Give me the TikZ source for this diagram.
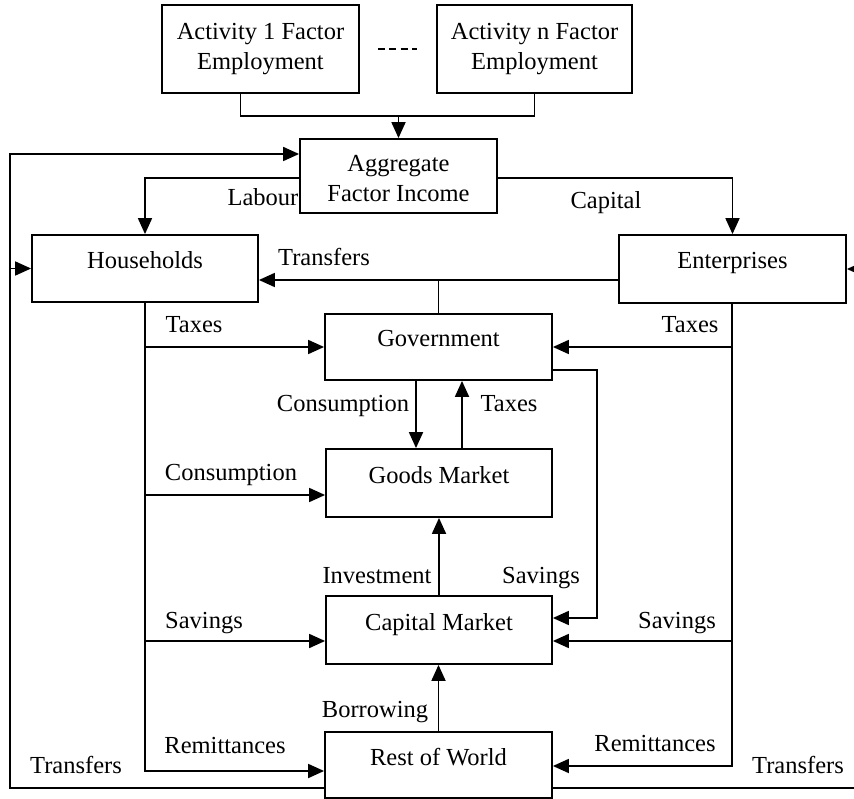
\documentclass[tikz,border=0pt]{standalone}
\usepackage{fontspec}
\setmainfont{Liberation Serif}
\usetikzlibrary{arrows.meta}
\begin{document}
\begin{tikzpicture}[x=1pt,y=-1pt,
  line width=1.8pt,
  every node/.style={font=\fontsize{24.5}{30}\selectfont},
  box/.style={draw, rectangle, inner sep=0pt, align=center},
  one/.style={text height=17pt, text depth=17pt},
  lab/.style={inner sep=0pt, text height=17pt, text depth=5pt},
  arr/.style={-{Triangle[length=16pt,width=14pt]}},
  dashline/.style={line width=1.4pt, dash pattern=on 7pt off 4.3pt}
]
\clip (0,0) rectangle (854,799);
\useasboundingbox (0,0) rectangle (854,799);
\fill[white] (0,0) rectangle (854,799);

% boxes
\node[box, minimum width=197pt, minimum height=88pt] (act1) at (260.5,49) {Activity 1 Factor\\Employment};
\node[box, minimum width=195pt, minimum height=88pt] (actn) at (534.5,49) {Activity n Factor\\Employment};
\node[box, minimum width=197pt, minimum height=74pt] (agg) at (398.5,176) {\raisebox{-5pt}[\height][\depth]{\begin{tabular}{@{}c@{}}Aggregate\\Factor Income\end{tabular}}};
\node[box, one, minimum width=226pt, minimum height=67pt] (hh) at (145,268.5) {Households};
\node[box, one, minimum width=227pt, minimum height=68pt] (ent) at (732.5,269) {Enterprises};
\node[box, one, minimum width=227pt, minimum height=66pt] (gov) at (438.5,347) {Government};
\node[box, one, minimum width=226pt, minimum height=68pt] (goods) at (439,483) {Goods Market};
\node[box, one, minimum width=226pt, minimum height=68pt] (cap) at (439,630) {Capital Market};
\node[box, one, minimum width=227pt, minimum height=66pt] (row) at (438.5,765) {Rest of World};

% helper coordinates
\coordinate (L) at (10,0);
\coordinate (HX) at (145,0);
\coordinate (EX) at (732,0);
\coordinate (GX) at (597,0);
\coordinate (RX) at (872,0);
\coordinate (X1) at (416,0);
\coordinate (X2) at (462,0);
\coordinate (j) at (398.5,116);
\coordinate (yA) at (0,154);
\coordinate (yL) at (0,178);
\coordinate (yT) at (0,280);
\coordinate (yTax) at (0,347);
\coordinate (yGo) at (0,370);
\coordinate (yCons) at (0,495);
\coordinate (yGs) at (0,618);
\coordinate (ySav) at (0,641);
\coordinate (yRl) at (0,771);
\coordinate (yRr) at (0,766);
\coordinate (yB) at (0,788);

% top
\draw ([xshift=-20pt]act1.south) |- (j);
\draw (actn.south) |- (j);
\draw[arr] (j) -- (agg.north);
\draw[dashline, shorten <=18pt, shorten >=19pt] (act1.east) -- (actn.west);

% left loop
\draw[arr] (row.west |- yB) -| (L |- yA) -- (agg.west |- yA);
\draw[arr] (L |- hh.west) -- (hh.west);

% labour / capital
\draw[arr] (agg.west |- yL) -| (hh.north);
\draw[arr] (agg.east |- yL) -| (ent.north);

% transfers
\draw[arr] (ent.west |- yT) -- (hh.east |- yT);
\draw (gov.north |- yT) -- (gov.north);

% households rail
\draw[arr] (HX |- hh.south) |- (row.west |- yRl);
\draw[arr] (HX |- yTax) -- (gov.west |- yTax);
\draw[arr] (HX |- yCons) -- (goods.west |- yCons);
\draw[arr] (HX |- ySav) -- (cap.west |- ySav);

% enterprises rail
\draw[arr] (EX |- ent.south) |- (row.east |- yRr);
\draw[arr] (EX |- yTax) -- (gov.east |- yTax);
\draw[arr] (EX |- ySav) -- (cap.east |- ySav);

% government savings
\draw[arr] (gov.east |- yGo) -| (GX |- yGs) -- (cap.east |- yGs);

% government <-> goods
\draw[arr] (X1 |- gov.south) -- (X1 |- goods.north);
\draw[arr] (X2 |- goods.north) -- (X2 |- gov.south);

% investment, borrowing
\draw[arr] (cap.north) -- (goods.south);
\draw[arr] (row.north) -- (row.north |- cap.south);

% right loop
\draw[arr] (row.east |- yB) -| (RX |- ent.east) -- (ent.east);

% labels
\node[lab] (lLab) at (263,200) {Labour};
\node[lab] (lCap) at (606,203) {Capital};
\node[lab] (lTr) at (324,260) {Transfers};
\node[lab] (lTxL) at (194,327) {Taxes};
\node[lab] (lTxR) at (690,327) {Taxes};
\node[lab] (lConG) at (343,406) {Consumption};
\node[lab] (lTxG) at (509,406) {Taxes};
\node[lab] (lConH) at (231,474) {Consumption};
\node[lab] (lInv) at (377,577) {Investment};
\node[lab] (lSavG) at (541,577) {Savings};
\node[lab] (lSavL) at (204,622) {Savings};
\node[lab] (lSavR) at (677,622) {Savings};
\node[lab] (lBor) at (375,711) {Borrowing};
\node[lab] (lRemL) at (225,747) {Remittances};
\node[lab] (lRemR) at (655,745) {Remittances};
\node[lab] (lTrL) at (76,767) {Transfers};
\node[lab] (lTrR) at (798,767) {Transfers};
\end{tikzpicture}
\end{document}
